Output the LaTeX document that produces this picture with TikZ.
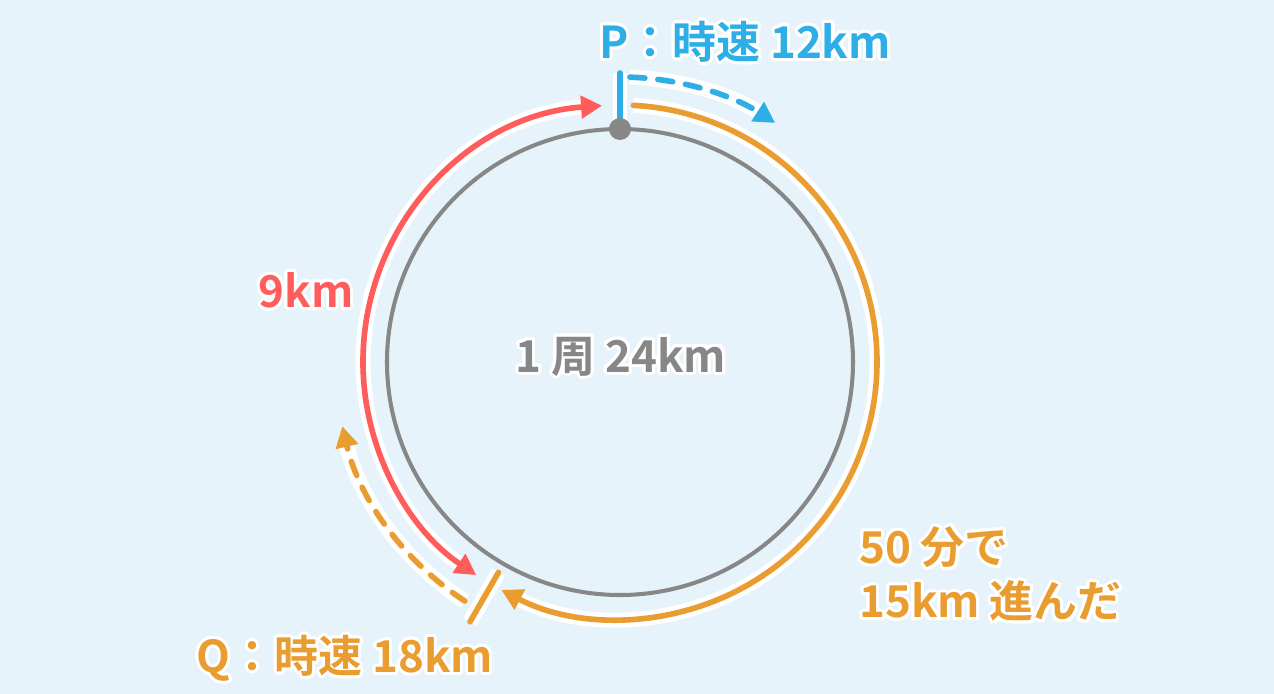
\documentclass[tikz,border=0pt]{standalone}
\usepackage{fontspec}
\setmainfont{Noto Sans CJK JP}[BoldFont={Noto Sans CJK JP Bold}]
\usepackage{contour}
\contourlength{0.06cm}
\usetikzlibrary{arrows.meta}
\definecolor{bg}{HTML}{E6F3FB}
\definecolor{cP}{HTML}{2EAEE6}
\definecolor{cQ}{HTML}{E99D30}
\definecolor{cR}{HTML}{FF5C5C}
\definecolor{cG}{HTML}{878787}
\tikzset{
	line/.style={line width=3.2pt, line cap=round, preaction={draw=white, line width=8.5pt}},
	dline/.style={line, dash pattern=on 0.3cm off 0.26cm},
	arr/.style={-{Triangle[length=0.42cm, width=0.44cm]}},
	lbl/.style={font=\bfseries\fontsize{25}{31}\selectfont}
}
\begin{document}
\begin{tikzpicture}[line join=round]
		%==bán kính
		\def\R{4.66}
		\def\Ra{5.14}
		\def\Rb{5.7}
		%==============
		\fill[bg] (-12.4,-6.64) rectangle (13.08,7.24);
		\useasboundingbox (-12.4,-6.64) rectangle (13.08,7.24);
		\coordinate (O) at (0,0);
		\coordinate (P) at (90:\R);
		\coordinate (P') at (90:5.78);
		\coordinate (Q) at (240:4.86);
		\coordinate (Q') at (240:6);
		\draw[cG, line width=2.3pt] (O) circle (\R);
		\draw[line, cR, {Triangle[length=0.42cm, width=0.44cm]}-{Triangle[length=0.42cm, width=0.44cm]}] (94:\Ra) arc[start angle=94, end angle=236, radius=\Ra];
		\draw[line, cQ, arr] (87:\Ra) arc[start angle=87, end angle=-117.5, radius=\Ra];
		\draw[line, cP] (P)--(P');
		\draw[line, cQ] (Q)--(Q');
		\draw[dline, cP, arr] (88:\Rb) arc[start angle=88, end angle=57, radius=\Rb];
		\draw[dline, cQ, arr] (237:\Rb) arc[start angle=237, end angle=193, radius=\Rb];
		\fill[cG] (P) circle (0.22);
		\node[lbl, text=cP] (p) at (2.5,6.38) {\contour{white}{P：時速 12km}};
		\node[lbl, text=cQ] (q) at (-5.5,-5.96) {\contour{white}{Q：時速 18km}};
		\node[lbl, text=cG] (c) at (0.02,0.08) {\contour{white}{1 周 24km}};
		\node[lbl, text=cR] (d) at (-6.28,1.4) {\contour{white}{9km}};
		\node[lbl, text=cQ, anchor=west, align=left] (t) at (4.66,-4.27) {\contour{white}{50 分で}\\\contour{white}{15km 進んだ}};
\end{tikzpicture}
\end{document}
